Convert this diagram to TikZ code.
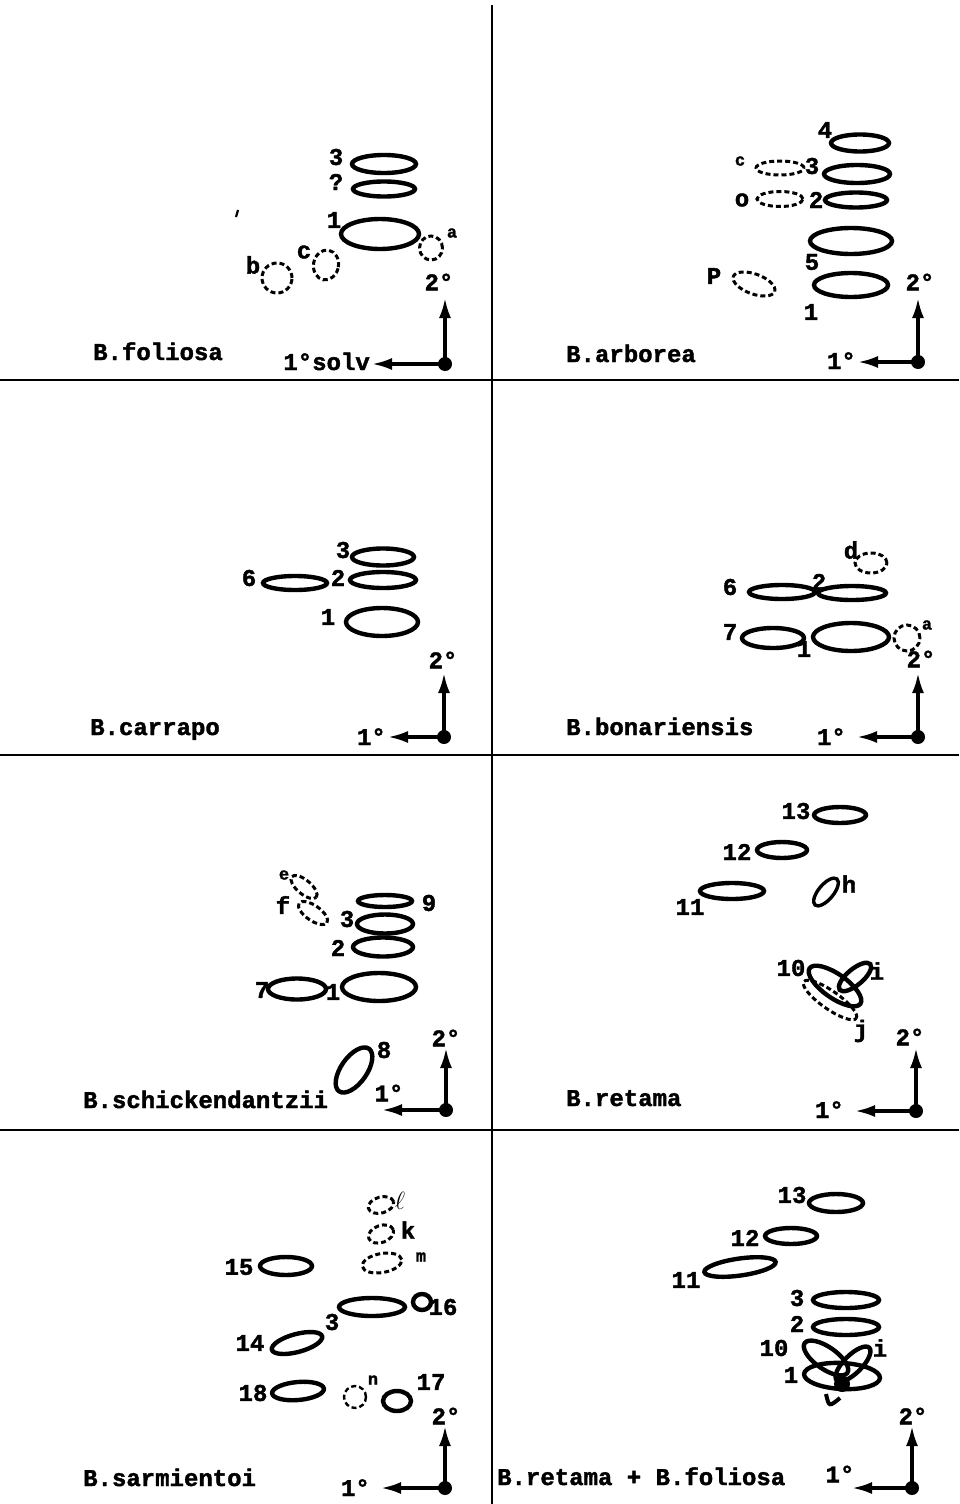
\documentclass[tikz,border=0pt]{standalone}
\usepackage{fontspec}
\setmonofont{Liberation Mono}[BoldFeatures={FakeBold=1.6}]
\usetikzlibrary{arrows.meta,shapes.geometric}
\tikzset{
  spot/.style={draw, line width=4.4pt},
  dspot/.style={draw, line width=3pt, dash pattern=on 5pt off 3pt},
  E/.style 2 args={ellipse, inner sep=0pt, minimum width=#1pt, minimum height=#2pt},
  lab/.style={font=\ttfamily\bfseries\fontsize{24}{24}\selectfont, inner sep=0pt},
  slab/.style={font=\ttfamily\bfseries\fontsize{17}{17}\selectfont, inner sep=0pt},
  ttl/.style={font=\ttfamily\bfseries\fontsize{24}{24}\selectfont, inner sep=0pt, anchor=base west},
  ax/.style={line width=3.2pt, -{Latex[length=20pt,width=12pt]}},
  org/.style={circle, fill, inner sep=0pt, minimum size=14pt},
  frame/.style={line width=2.8pt},
}
\begin{document}
\begin{tikzpicture}[x=1pt,y=-1pt]
\fill[white] (0,0) rectangle (959,1504);
\useasboundingbox (0,0) rectangle (959,1504);
% frame
\coordinate (vt) at (492,5); \coordinate (vb) at (492,1504);
\draw[frame] (vt) -- (vb);
\coordinate (h1l) at (0,380); \coordinate (h1r) at (959,380);
\coordinate (h2l) at (0,755); \coordinate (h2r) at (959,755);
\coordinate (h3l) at (0,1130); \coordinate (h3r) at (959,1130);
\draw[frame] (h1l) -- (h1r);
\draw[frame] (h2l) -- (h2r);
\draw[frame] (h3l) -- (h3r);

% ===== Panel 1: B.foliosa =====
\node[spot,E={64}{18}] (a3) at (384,164) {};
\node[lab] (a3l) at (336,157) {3};
\node[spot,E={62}{15}] (a2) at (384,189) {};
\node[lab] (a2l) at (336,182) {?};
\node[spot,E={78}{30}] (a1) at (380,234) {};
\node[lab] (a1l) at (334,220) {1};
\node[dspot,E={23}{24}] (aa) at (431,248) {};
\node[slab] (aal) at (452,233) {a};
\node[dspot,E={25}{30},rotate=-10] (ac) at (326,265) {};
\node[lab] (acl) at (304,252) {c};
\node[dspot,E={30}{30}] (ab) at (277,278) {};
\node[lab] (abl) at (253,265) {b};
\coordinate (tk1) at (238,210); \coordinate (tk2) at (236,217);
\draw[line width=2.2pt] (tk1) -- (tk2);
\node[org] (o1) at (445,364) {};
\coordinate (u1) at (445,298); \coordinate (w1) at (372,364);
\draw[ax] (o1.center) -- (u1);
\draw[ax] (o1.center) -- (w1);
\node[lab] (o1u) at (439,282) {2°};
\node[lab,anchor=base east] (o1w) at (370,370) {1°solv};
\node[ttl] (t1) at (93,360) {B.foliosa};

% ===== Panel 2: B.arborea =====
\node[spot,E={58}{17}] (b4) at (860,143) {};
\node[lab] (b4l) at (825,130) {4};
\node[spot,E={66}{18}] (b3) at (857,174) {};
\node[lab] (b3l) at (812,166) {3};
\node[dspot,E={48}{14}] (bc) at (780,168) {};
\node[slab] (bcl) at (740,161) {c};
\node[spot,E={62}{15}] (b2) at (856,200) {};
\node[lab] (b2l) at (816,200) {2};
\node[dspot,E={46}{15}] (bo) at (780,199) {};
\node[lab] (bol) at (742,200) {o};
\node[spot,E={82}{26}] (b5) at (851,241) {};
\node[lab] (b5l) at (812,262) {5};
\node[spot,E={74}{24}] (b1) at (851,285) {};
\node[lab] (b1l) at (811,312) {1};
\node[dspot,E={44}{20},rotate=-20] (bp) at (754,284) {};
\node[lab] (bpl) at (714,276) {P};
\node[org] (o2) at (918,362) {};
\coordinate (u2) at (918,298); \coordinate (w2) at (858,362);
\draw[ax] (o2.center) -- (u2);
\draw[ax] (o2.center) -- (w2);
\node[lab] (o2u) at (920,282) {2°};
\node[lab,anchor=base east] (o2w) at (856,369) {1°};
\node[ttl] (t2) at (566,362) {B.arborea};

% ===== Panel 3: B.carrapo =====
\node[spot,E={62}{17}] (c3) at (383,557) {};
\node[lab] (c3l) at (343,550) {3};
\node[spot,E={66}{16}] (c2) at (383,580) {};
\node[lab] (c2l) at (338,578) {2};
\node[spot,E={64}{14}] (c6) at (295,583) {};
\node[lab] (c6l) at (249,578) {6};
\node[spot,E={72}{28}] (c1) at (382,622) {};
\node[lab] (c1l) at (328,617) {1};
\node[org] (o3) at (444,737) {};
\coordinate (u3) at (444,673); \coordinate (w3) at (388,737);
\draw[ax] (o3.center) -- (u3);
\draw[ax] (o3.center) -- (w3);
\node[lab] (o3u) at (443,660) {2°};
\node[lab,anchor=base east] (o3w) at (386,745) {1°};
\node[ttl] (t3) at (90,735) {B.carrapo};

% ===== Panel 4: B.bonariensis =====
\node[dspot,E={32}{20}] (dd) at (871,563) {};
\node[lab] (ddl) at (851,550) {d};
\node[spot,E={66}{14}] (d6) at (782,592) {};
\node[lab] (d6l) at (730,587) {6};
\node[spot,E={68}{14}] (d2) at (852,593) {};
\node[lab] (d2l) at (819,582) {2};
\node[spot,E={62}{20}] (d7) at (773,638) {};
\node[lab] (d7l) at (730,632) {7};
\node[spot,E={76}{28}] (d1) at (851,637) {};
\node[lab] (d1l) at (804,649) {1};
\node[dspot,E={26}{26}] (da) at (907,638) {};
\node[slab] (dal) at (927,625) {a};
\node[org] (o4) at (918,737) {};
\coordinate (u4) at (918,673); \coordinate (w4) at (857,737);
\draw[ax] (o4.center) -- (u4);
\draw[ax] (o4.center) -- (w4);
\node[lab] (o4u) at (921,659) {2°};
\node[lab,anchor=base east] (o4w) at (846,745) {1°};
\node[ttl] (t4) at (566,735) {B.bonariensis};

% ===== Panel 5: B.schickendantzii =====
\node[dspot,E={32}{14},rotate=-40] (ee) at (304,887) {};
\node[slab] (eel) at (284,875) {e};
\node[dspot,E={34}{15},rotate=-35] (ef) at (313,913) {};
\node[lab] (efl) at (283,905) {f};
\node[spot,E={54}{12}] (e9) at (385,901) {};
\node[lab] (e9l) at (429,903) {9};
\node[spot,E={56}{19}] (e3) at (385,924) {};
\node[lab] (e3l) at (347,919) {3};
\node[spot,E={60}{19}] (e2) at (383,947) {};
\node[lab] (e2l) at (338,948) {2};
\node[spot,E={58}{21}] (e7) at (297,989) {};
\node[lab] (e7l) at (262,990) {7};
\node[spot,E={74}{28}] (e1) at (379,987) {};
\node[lab] (e1l) at (333,992) {1};
\node[spot,E={52}{26},rotate=55] (e8) at (354,1070) {};
\node[lab] (e8l) at (384,1050) {8};
\node[org] (o5) at (446,1110) {};
\coordinate (u5) at (446,1048); \coordinate (w5) at (382,1110);
\draw[ax] (o5.center) -- (u5);
\draw[ax] (o5.center) -- (w5);
\node[lab] (o5u) at (446,1038) {2°};
\node[lab] (o5w) at (389,1093) {1°};
\node[ttl] (t5) at (83,1108) {B.schickendantzii};

% ===== Panel 6: B.retama =====
\node[spot,E={52}{16}] (f13) at (840,815) {};
\node[lab] (f13l) at (796,811) {13};
\node[spot,E={50}{16}] (f12) at (782,850) {};
\node[lab] (f12l) at (737,852) {12};
\node[spot,E={64}{16}] (f11) at (732,891) {};
\node[lab] (f11l) at (690,907) {11};
\node[spot,E={34}{15},rotate=50,line width=3.4pt] (fh) at (826,892) {};
\node[lab] (fhl) at (849,884) {h};
\node[dspot,E={64}{18},rotate=-35] (fj) at (830,1000) {};
\node[spot,E={62}{24},rotate=-35] (f10) at (835,986) {};
\node[spot,E={40}{16},rotate=40] (fi) at (855,977) {};
\node[lab] (f10l) at (791,968) {10};
\node[lab] (fil) at (877,971) {i};
\node[lab] (fjl) at (861,1031) {j};
\node[org] (o6) at (916,1111) {};
\coordinate (u6) at (916,1048); \coordinate (w6) at (855,1111);
\draw[ax] (o6.center) -- (u6);
\draw[ax] (o6.center) -- (w6);
\node[lab] (o6u) at (910,1037) {2°};
\node[lab,anchor=base east] (o6w) at (844,1118) {1°};
\node[ttl] (t6) at (566,1106) {B.retama};

% ===== Panel 7: B.sarmientoi =====
\node[dspot,E={26}{16},rotate=15] (gl) at (381,1205) {};
\node[lab] (gll) at (400,1201) {$\ell$};
\node[dspot,E={26}{17},rotate=20] (gk) at (381,1234) {};
\node[lab] (gkl) at (408,1230) {k};
\node[dspot,E={40}{19},rotate=10] (gm) at (382,1263) {};
\node[slab] (gml) at (421,1257) {m};
\node[spot,E={52}{18}] (g15) at (286,1266) {};
\node[lab] (g15l) at (239,1267) {15};
\node[spot,E={66}{18}] (g3) at (372,1307) {};
\node[lab] (g3l) at (332,1322) {3};
\node[spot,E={18}{16}] (g16) at (422,1302) {};
\node[lab] (g16l) at (443,1307) {16};
\node[spot,E={52}{18},rotate=15] (g14) at (297,1343) {};
\node[lab] (g14l) at (250,1343) {14};
\node[spot,E={52}{18},rotate=5] (g18) at (298,1391) {};
\node[lab] (g18l) at (253,1393) {18};
\node[dspot,E={22}{22},line width=2.4pt] (gn) at (355,1397) {};
\node[slab] (gnl) at (373,1380) {n};
\node[spot,E={28}{20}] (g17) at (397,1401) {};
\node[lab] (g17l) at (431,1382) {17};
\node[org] (o7) at (445,1488) {};
\coordinate (u7) at (445,1426); \coordinate (w7) at (381,1488);
\draw[ax] (o7.center) -- (u7);
\draw[ax] (o7.center) -- (w7);
\node[lab] (o7u) at (446,1416) {2°};
\node[lab,anchor=base east] (o7w) at (370,1496) {1°};
\node[ttl] (t7) at (83,1486) {B.sarmientoi};

% ===== Panel 8: B.retama + B.foliosa =====
\node[spot,E={54}{18}] (h13) at (836,1203) {};
\node[lab] (h13l) at (792,1195) {13};
\node[spot,E={52}{16}] (h12) at (791,1236) {};
\node[lab] (h12l) at (745,1238) {12};
\node[spot,E={72}{17},rotate=8] (h11) at (740,1267) {};
\node[lab] (h11l) at (686,1280) {11};
\node[spot,E={66}{16}] (h3) at (846,1300) {};
\node[lab] (h3l) at (797,1298) {3};
\node[spot,E={66}{16}] (h2) at (846,1327) {};
\node[lab] (h2l) at (797,1324) {2};
\node[spot,E={52}{22},rotate=-35] (h10) at (826,1358) {};
\node[spot,E={46}{18},rotate=45] (hi) at (853,1364) {};
\node[spot,E={76}{26},rotate=-3] (h1) at (842,1376) {};
\fill (842,1384) circle[radius=8pt];
\coordinate (hk1) at (826,1394); \coordinate (hk2) at (829,1407); \coordinate (hk3) at (840,1398);
\draw[line width=4pt] (hk1) .. controls (hk2) .. (hk3);
\node[lab] (h10l) at (774,1348) {10};
\node[lab] (hil) at (880,1348) {i};
\node[lab] (h1l) at (791,1375) {1};
\node[org] (o8) at (912,1488) {};
\coordinate (u8) at (912,1426); \coordinate (w8) at (852,1488);
\draw[ax] (o8.center) -- (u8);
\draw[ax] (o8.center) -- (w8);
\node[lab] (o8u) at (913,1416) {2°};
\node[lab] (o8w) at (840,1474) {1°};
\node[ttl] (t8) at (497,1485) {B.retama + B.foliosa};
\end{tikzpicture}
\end{document}
